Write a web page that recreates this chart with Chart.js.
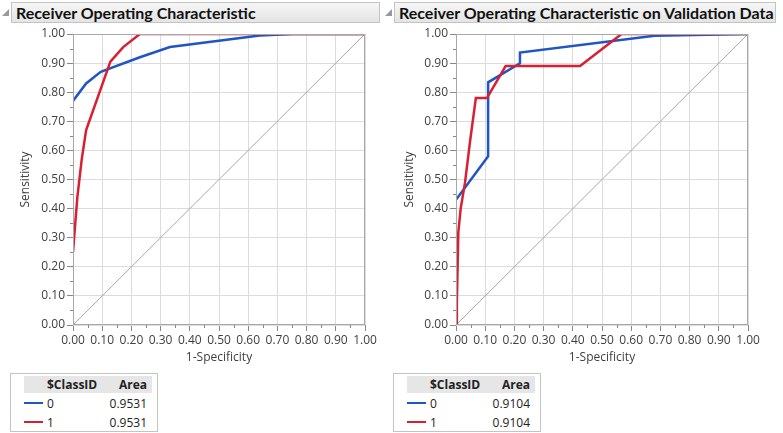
<!DOCTYPE html>
<html>
<head>
<meta charset="utf-8">
<script src="https://cdn.jsdelivr.net/npm/chart.js@4"></script>
<style>
  body { margin: 0; background: #fff; width: 783px; height: 433px; overflow: hidden; position: relative; font-family: "Open Sans", sans-serif; }
  .bar { position: absolute; top: 2px; height: 21px; border: 1px solid #c4c4c4; background: linear-gradient(#f6f6f6, #e4e4e4);
         font: bold 16px "Lato", sans-serif; color: #111; line-height: 20px; padding-left: 4px; box-sizing: border-box; }
  .tri { position: absolute; top: 9px; width: 0; height: 0; border-left: 7px solid transparent; border-bottom: 7px solid #999; }
  canvas { position: absolute; top: 24px; }
  .leg { position: absolute; top: 373px; width: 148px; height: 59px; border: 1px solid #c4c4c4; box-sizing: border-box; font-size: 12px; color: #222; }
  .leg .hd { position: absolute; top: 2px; left: 13px; right: 5px; height: 17px; background: #e6e6e6; }
  .leg span { position: absolute; white-space: nowrap; }
  .leg .ln { position: absolute; height: 2px; width: 19px; }
</style>
</head>
<body>
<div class="tri" style="left:2px"></div>
<div class="bar" style="left:11px; width:369px">Receiver Operating Characteristic</div>
<div class="tri" style="left:385px"></div>
<div class="bar" style="left:394px; width:382px">Receiver Operating Characteristic on Validation Data</div>

<canvas id="c1" width="390" height="345" style="left:0px"></canvas>
<canvas id="c2" width="399" height="345" style="left:384px"></canvas>

<div class="leg" id="leg1" style="left:10px"></div>
<div class="leg" id="leg2" style="left:393px"></div>

<script>
// training ROC
const trainX0 = [0, 0.045, 0.095, 0.229, 0.332, 0.64, 0.755, 1.0];
const trainY0 = [0.77, 0.83, 0.87, 0.92, 0.955, 0.995, 1.0, 1.0];
const trainX1 = [0, 0.007, 0.015, 0.03, 0.045, 0.128, 0.172, 0.229, 1.0];
const trainY1 = [0.25, 0.34, 0.44, 0.57, 0.67, 0.905, 0.955, 1.0, 1.0];
// validation ROC
const validX0 = [0, 0.11, 0.11, 0.219, 0.219, 0.68, 1.0];
const validY0 = [0.43, 0.58, 0.834, 0.899, 0.936, 0.994, 1.0];
const validX1 = [0, 0.003, 0.008, 0.016, 0.031, 0.048, 0.068, 0.106, 0.17, 0.425, 0.567, 1.0];
const validY1 = [0, 0.08, 0.32, 0.40, 0.49, 0.63, 0.78, 0.78, 0.89, 0.89, 1.0, 1.0];

const classIds = ['0', '1'];
const trainArea = ['0.9531', '0.9531'];
const validArea = ['0.9104', '0.9104'];

const blue = '#1f55c4';
const red = '#d91f33';
const txt = '#404040';

function pts(xs, ys) { return xs.map((x, i) => ({x: x, y: ys[i]})); }

const frame = {
  id: 'frame',
  afterDraw(chart) {
    const c = chart.ctx, a = chart.chartArea;
    c.save();
    c.strokeStyle = '#a8a8a8';
    c.lineWidth = 1;
    c.strokeRect(a.left + 0.5, a.top + 0.5, a.right - a.left - 1, a.bottom - a.top - 1);
    // minor ticks
    c.strokeStyle = '#888';
    const xs = chart.scales.x, ys = chart.scales.y;
    for (let v = 0.05; v < 1; v += 0.1) {
      const px = Math.round(xs.getPixelForValue(v)) + 0.5;
      c.beginPath(); c.moveTo(px, a.bottom); c.lineTo(px, a.bottom + 3); c.stroke();
      const py = Math.round(ys.getPixelForValue(v)) + 0.5;
      c.beginPath(); c.moveTo(a.left, py); c.lineTo(a.left - 3, py); c.stroke();
    }
    c.restore();
  }
};

function axis(title, horiz, w) {
  return {
    type: 'linear', min: 0, max: 1,
    ticks: { stepSize: 0.1, autoSkip: false, maxRotation: 0, color: txt, font: {family: 'Open Sans', size: 12},
             padding: 2, callback: v => v.toFixed(2) },
    grid: { color: '#dcdcdc', tickColor: '#888', tickLength: 6, lineWidth: 1 },
    border: { display: false },
    title: { display: true, text: title, color: txt, font: {family: 'Open Sans', size: 12},
             padding: horiz ? {top: 0, bottom: 4} : {top: 18, bottom: 0} },
    afterFit: s => { if (horiz) s.height = 44; else s.width = w; }
  };
}

function makeChart(id, x0, y0, x1, y1, yw, padRight) {
  new Chart(document.getElementById(id).getContext('2d'), {
    type: 'scatter',
    data: {
      datasets: [
        { data: pts(x1, y1), borderColor: red, borderWidth: 2.5, showLine: true, pointRadius: 0, order: 0 },
        { data: pts(x0, y0), borderColor: blue, borderWidth: 2.5, showLine: true, pointRadius: 0, order: 1 },
        { data: pts([0, 1], [0, 1]), borderColor: '#a8a8a8', borderWidth: 1, showLine: true, pointRadius: 0, order: 2 }
      ]
    },
    options: {
      responsive: false, animation: false, devicePixelRatio: 1,
      layout: { padding: { top: 10, right: padRight, left: 0, bottom: 0 } },
      plugins: { legend: { display: false }, tooltip: { enabled: false } },
      scales: { x: axis('1-Specificity', true), y: axis('Sensitivity', false, yw) }
    },
    plugins: [frame]
  });
}

makeChart('c1', trainX0, trainY0, trainX1, trainY1, 73, 25);
makeChart('c2', validX0, validY0, validX1, validY1, 72, 35);

function legend(id, areas) {
  const el = document.getElementById(id);
  let h = '<div class="hd"></div>';
  h += '<span style="left:36px; top:2px; font-weight:bold">$ClassID</span>';
  h += '<span style="right:10px; top:2px; font-weight:bold">Area</span>';
  const cols = [blue, red];
  classIds.forEach((c, i) => {
    const y = 21 + i * 19;
    h += '<div class="ln" style="left:13px; top:' + (y + 7) + 'px; background:' + cols[i] + '"></div>';
    h += '<span style="left:36px; top:' + y + 'px">' + c + '</span>';
    h += '<span style="right:10px; top:' + y + 'px">' + areas[i] + '</span>';
  });
  el.innerHTML = h;
}
legend('leg1', trainArea);
legend('leg2', validArea);
</script>
</body>
</html>
